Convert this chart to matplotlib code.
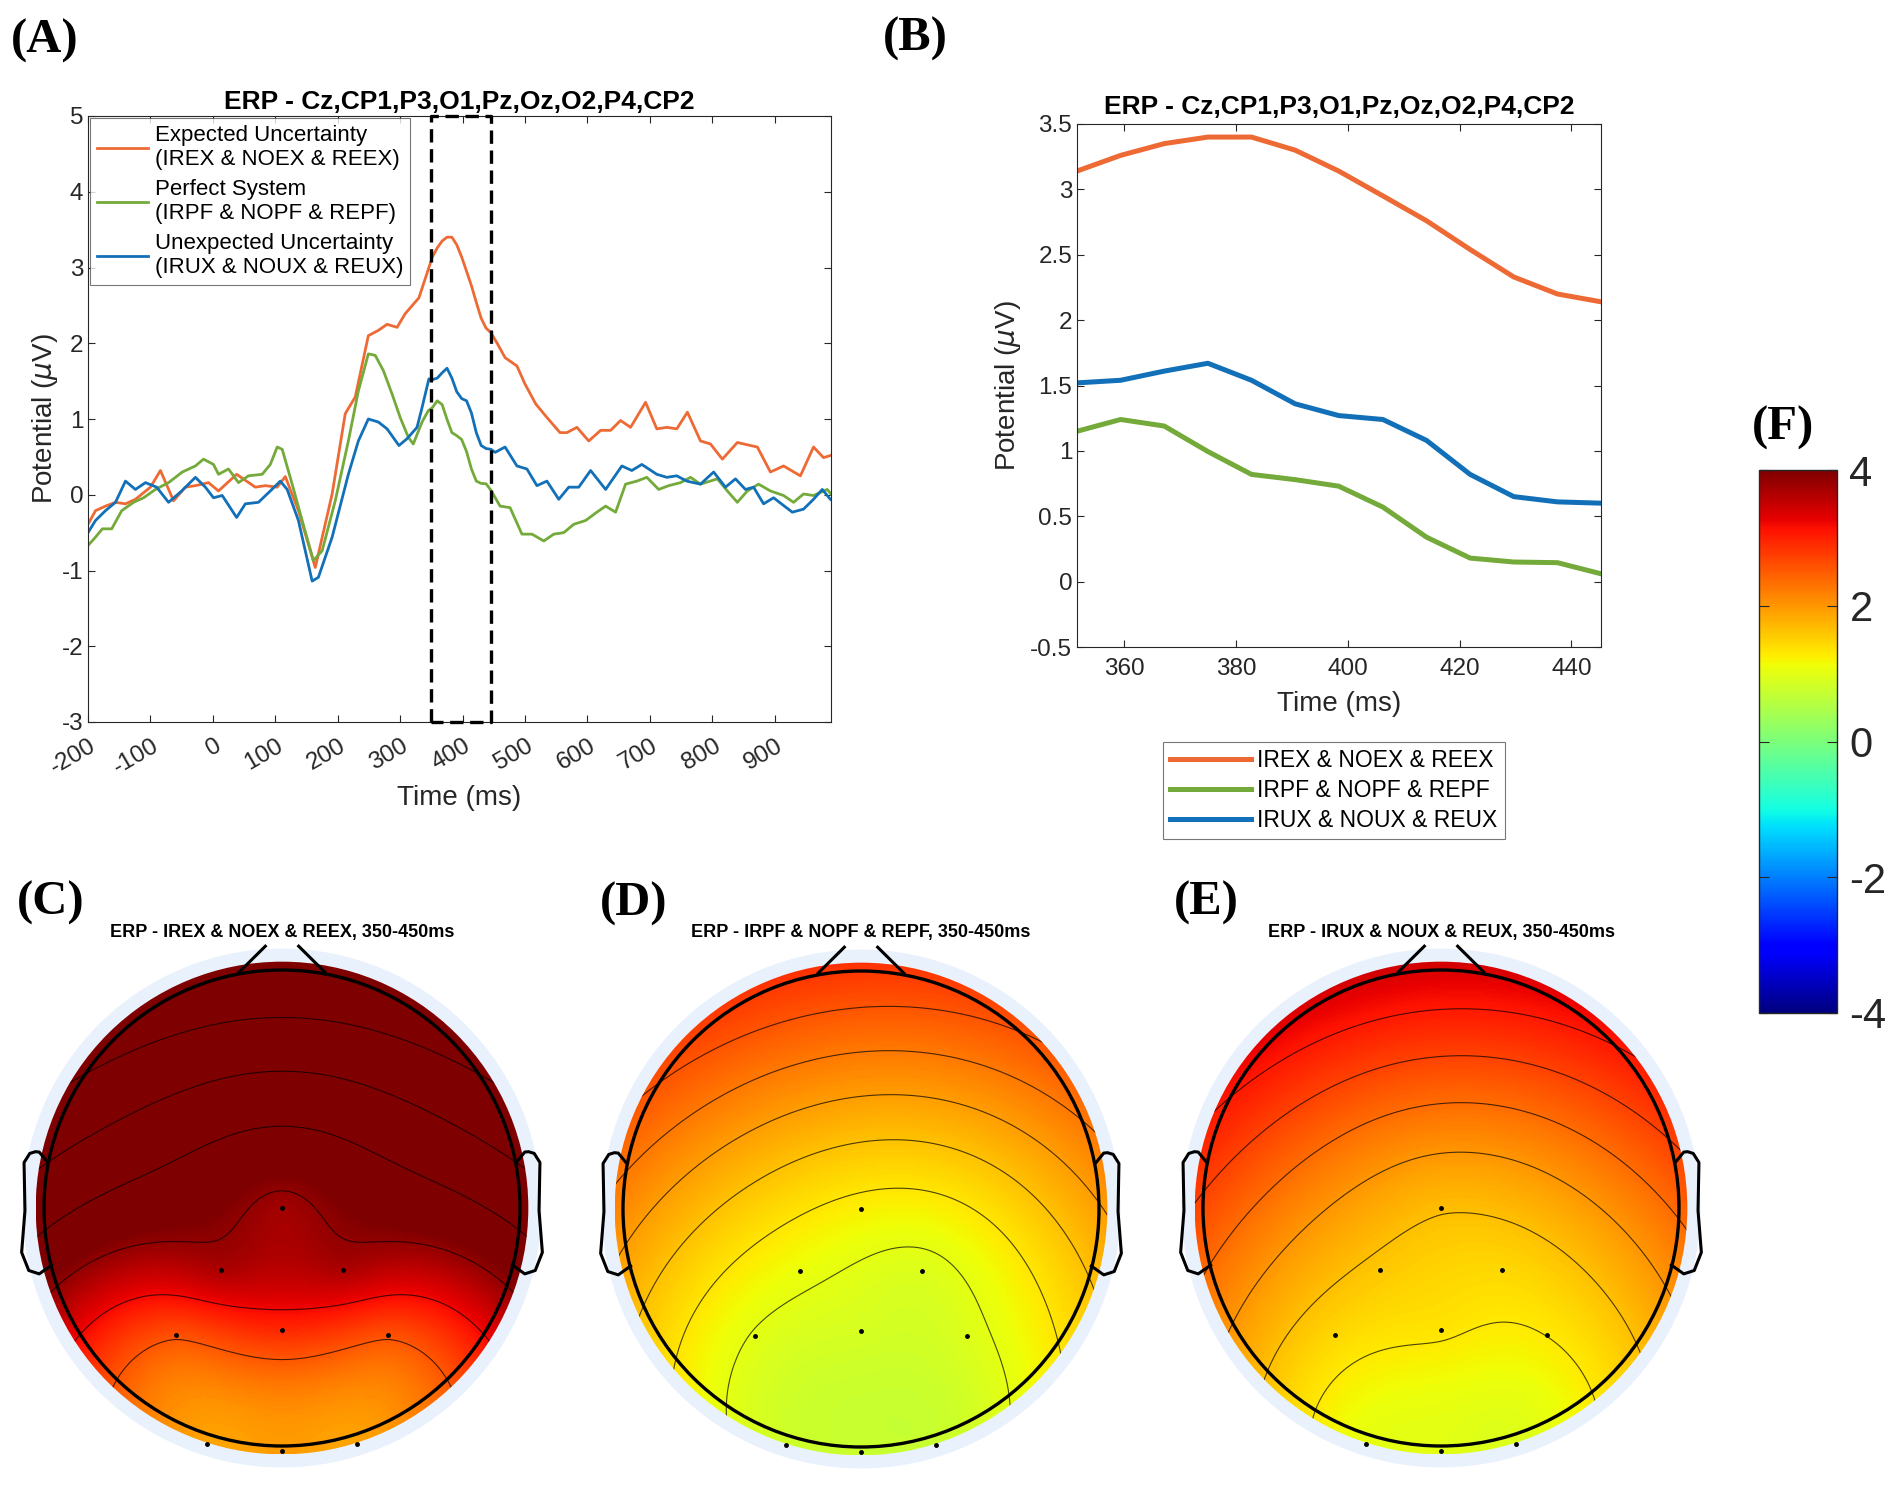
import numpy as np
import matplotlib
matplotlib.use('Agg')
import matplotlib.pyplot as plt
import matplotlib.transforms as mtransforms
from matplotlib.patches import Circle
from matplotlib.colors import Normalize
from matplotlib.cm import ScalarMappable
from matplotlib.ticker import FuncFormatter

plt.rcParams['font.family'] = ['Liberation Sans', 'DejaVu Sans']
plt.rcParams['axes.unicode_minus'] = False

# ---- ERP waveforms (panel A) ----
pre_time_exp = [-200, -188, -172, -156, -140, -124, -100, -84, -63, -44,
                -28, -7, 9, 38, 68, 84, 103, 116, 137, 164,
                191, 212, 228, 249, 265, 279, 295, 308, 330, 346]
pre_expected = [-0.39, -0.21, -0.15, -0.1, -0.12, -0.06, 0.1, 0.32, -0.08, 0.1,
                0.12, 0.16, 0.05, 0.27, 0.1, 0.12, 0.1, 0.24, -0.21, -0.96,
                0.01, 1.07, 1.29, 2.1, 2.17, 2.25, 2.21, 2.39, 2.6, 3.0]
post_time_exp = [456, 468, 487, 500, 517, 535, 556, 567, 583, 602,
                 621, 637, 653, 669, 693, 711, 727, 743, 760, 781,
                 797, 816, 840, 861, 872, 893, 914, 941, 962, 978, 990]
post_expected = [1.99, 1.81, 1.7, 1.46, 1.2, 1.02, 0.82, 0.82, 0.89, 0.71,
                 0.85, 0.85, 0.98, 0.89, 1.22, 0.87, 0.89, 0.87, 1.09, 0.71,
                 0.67, 0.47, 0.69, 0.65, 0.63, 0.3, 0.38, 0.25, 0.63, 0.49, 0.52]

pre_time_pf = [-200, -188, -177, -162, -146, -127, -111, -92, -71, -49,
               -28, -15, 1, 9, 25, 41, 57, 79, 92, 103,
               111, 127, 143, 161, 175, 196, 217, 233, 249, 260,
               273, 287, 300, 313, 321, 335, 345]
pre_perfect = [-0.67, -0.56, -0.45, -0.45, -0.21, -0.1, -0.04, 0.07, 0.16, 0.3,
               0.38, 0.47, 0.4, 0.27, 0.34, 0.16, 0.25, 0.27, 0.4, 0.63,
               0.6, 0.14, -0.34, -0.87, -0.74, -0.08, 0.71, 1.37, 1.86, 1.84,
               1.64, 1.33, 1.02, 0.76, 0.67, 0.96, 1.11]
post_time_pf = [460, 476, 495, 511, 530, 546, 562, 578, 597, 615,
                629, 645, 661, 679, 695, 714, 730, 749, 765, 781,
                808, 824, 840, 856, 874, 893, 914, 930, 946, 962, 984, 990]
post_perfect = [-0.15, -0.17, -0.52, -0.52, -0.61, -0.52, -0.5, -0.39, -0.34, -0.23,
                -0.15, -0.23, 0.14, 0.18, 0.23, 0.07, 0.12, 0.16, 0.23, 0.14,
                0.21, 0.05, -0.1, 0.05, 0.14, 0.05, -0.01, -0.1, 0.01, -0.01, 0.07, 0.01]

pre_time_ux = [-200, -188, -172, -156, -140, -124, -108, -90, -71, -50,
               -28, -12, 1, 15, 38, 52, 73, 92, 108, 119,
               137, 159, 169, 191, 217, 233, 249, 265, 279, 298,
               311, 327, 335, 346]
pre_unexpected = [-0.5, -0.34, -0.21, -0.1, 0.18, 0.07, 0.16, 0.1, -0.1, 0.05,
                  0.23, 0.1, -0.04, -0.01, -0.3, -0.12, -0.1, 0.05, 0.18, 0.07,
                  -0.34, -1.14, -1.09, -0.56, 0.27, 0.71, 1.0, 0.96, 0.87, 0.65,
                  0.74, 0.89, 1.15, 1.53]
post_time_ux = [452, 468, 487, 503, 519, 535, 554, 570, 586, 605, 629,
                655, 671, 687, 711, 727, 743, 759, 781, 802, 821,
                837, 853, 866, 882, 898, 928, 946, 962, 976, 989]
post_unexpected = [0.56, 0.63, 0.38, 0.34, 0.12, 0.18, -0.06, 0.1, 0.1, 0.32, 0.07,
                   0.38, 0.32, 0.4, 0.27, 0.23, 0.25, 0.18, 0.14, 0.3, 0.1,
                   0.21, 0.07, 0.1, -0.12, -0.04, -0.23, -0.19, -0.06, 0.07, -0.06]

# ---- 350-450 ms window (panel B) ----
win_time = [351.6, 359.4, 367.2, 375.0, 382.8, 390.6, 398.4, 406.3, 414.1, 421.9, 429.7, 437.5, 445.3]
win_expected = [3.14, 3.26, 3.35, 3.40, 3.40, 3.30, 3.14, 2.95, 2.76, 2.54, 2.33, 2.20, 2.14]
win_perfect = [1.15, 1.24, 1.19, 0.995, 0.82, 0.78, 0.73, 0.57, 0.34, 0.18, 0.15, 0.145, 0.06]
win_unexpected = [1.52, 1.54, 1.61, 1.67, 1.54, 1.36, 1.27, 1.24, 1.08, 0.82, 0.65, 0.61, 0.60]

# ---- topographies (panels C-E): mean amplitude per channel, 350-450 ms ----
channels = ['Cz', 'CP1', 'P3', 'O1', 'Pz', 'Oz', 'O2', 'P4', 'CP2']
chan_x = [0.0, -0.256, -0.444, -0.317, 0.0, 0.0, 0.317, 0.444, 0.256]
chan_y = [0.0, -0.26, -0.535, -0.99, -0.511, -1.02, -0.99, -0.535, -0.26]
topo_expected = [3.75, 3.68, 2.6, 1.9, 2.95, 1.95, 1.9, 2.6, 3.68]
topo_perfect = [1.24, 1.1, 1.0, 0.82, 0.88, 0.75, 0.75, 0.94, 0.94]
topo_unexpected = [1.68, 1.58, 1.45, 1.05, 1.34, 1.0, 0.95, 1.3, 1.45]

ORANGE = '#EE6A35'
GREEN = '#74AA3A'
BLUE = '#1270B8'
AXC = '#262626'

W, H = 1902, 1487
fig = plt.figure(figsize=(W / 100, H / 100), dpi=100)


def px_axes(l, t, r, b):
    return fig.add_axes([l / W, 1 - b / H, (r - l) / W, (b - t) / H])


def matlab_style(ax, size=17.5):
    for s in ax.spines.values():
        s.set_color(AXC)
        s.set_linewidth(0.8)
    ax.tick_params(direction='in', top=True, right=True, length=5, width=0.8,
                   colors=AXC, labelsize=size, labelcolor=AXC)


g_fmt = FuncFormatter(lambda v, p: '%g' % v)
title_txt = 'ERP - Cz,CP1,P3,O1,Pz,Oz,O2,P4,CP2'

# ---------- panel A ----------
axA = px_axes(88, 116, 831, 722)
axA.plot(pre_time_exp + win_time + post_time_exp, pre_expected + win_expected + post_expected,
         color=ORANGE, lw=2, label='Expected Uncertainty\n(IREX & NOEX & REEX)')
axA.plot(pre_time_pf + win_time + post_time_pf, pre_perfect + win_perfect + post_perfect,
         color=GREEN, lw=2, label='Perfect System\n(IRPF & NOPF & REPF)')
axA.plot(pre_time_ux + win_time + post_time_ux, pre_unexpected + win_unexpected + post_unexpected,
         color=BLUE, lw=2, label='Unexpected Uncertainty\n(IRUX & NOUX & REUX)')
axA.plot([350, 350, 445, 445, 350], [-3, 5, 5, -3, -3], color='k', lw=2.4,
         ls=(0, (4, 2)), clip_on=False, zorder=5)
axA.set_xlim(-200, 990)
axA.set_ylim(-3, 5)
axA.set_xticks(range(-200, 1000, 100))
axA.set_yticks(range(-3, 6))
matlab_style(axA)
axA.tick_params(axis='x', pad=9)
shift = mtransforms.ScaledTranslation(0.12, 0, fig.dpi_scale_trans)
for lab in axA.get_xticklabels():
    lab.set_rotation(30)
    lab.set_ha('right')
    lab.set_transform(lab.get_transform() + shift)
axA.set_xlabel('Time (ms)', fontsize=20, color=AXC, labelpad=5)
axA.set_ylabel(r'Potential ($\mu$V)', fontsize=20, color=AXC, labelpad=1)
axA.set_title(title_txt, fontsize=19, fontweight='bold', pad=5)
legA = axA.legend(loc='upper left', fontsize=16, frameon=True, fancybox=False,
                  edgecolor='#555555', borderaxespad=0.1, handlelength=2.3,
                  handletextpad=0.3, labelspacing=0.4, borderpad=0.3)
legA.get_frame().set_linewidth(0.8)

# ---------- panel B ----------
axB = px_axes(1077, 124, 1601, 647)
axB.plot(win_time, win_expected, color=ORANGE, lw=3.6, label='IREX & NOEX & REEX')
axB.plot(win_time, win_perfect, color=GREEN, lw=3.6, label='IRPF & NOPF & REPF')
axB.plot(win_time, win_unexpected, color=BLUE, lw=3.6, label='IRUX & NOUX & REUX')
axB.set_xlim(win_time[0], win_time[-1])
axB.set_ylim(-0.5, 3.5)
axB.set_xticks(range(360, 441, 20))
axB.set_yticks(np.arange(-0.5, 3.51, 0.5))
axB.yaxis.set_major_formatter(g_fmt)
matlab_style(axB)
axB.tick_params(axis='x', pad=8)
axB.set_xlabel('Time (ms)', fontsize=20, color=AXC, labelpad=8)
axB.set_ylabel(r'Potential ($\mu$V)', fontsize=20, color=AXC, labelpad=5)
axB.set_title(title_txt, fontsize=19, fontweight='bold', pad=7)
legB = axB.legend(loc='upper center', bbox_to_anchor=(1334 / W, 1 - 731 / H),
                  bbox_transform=fig.transFigure, fontsize=16.5, frameon=True,
                  fancybox=False, edgecolor='#555555', handlelength=3.5,
                  handletextpad=0.3, labelspacing=0.3, borderpad=0.3)
legB.get_frame().set_linewidth(0.8)

# ---------- topoplots ----------
BACK = '#E8F1FC'
DISK_R = 1.035
RING_R = 1.09
ear_x = np.array([.492, .510, .518, .5299, .5419, .54, .547, .532, .510, .484]) * 2
ear_y = np.array([.0955, .1175, .1183, .1146, .0955, -.0055, -.0932, -.1313, -.1384, -.1199]) * 2


def biharmonic(xe, ye, ve, xg, yg):
    # v4-style biharmonic spline (Sandwell), head radius = 0.5 units
    xe = np.asarray(xe) * 0.5
    ye = np.asarray(ye) * 0.5
    d = np.hypot(xe[:, None] - xe[None, :], ye[:, None] - ye[None, :])
    with np.errstate(divide='ignore', invalid='ignore'):
        G = np.where(d > 0, d ** 2 * (np.log(d) - 1), 0.0)
    w = np.linalg.solve(G, np.asarray(ve, float))
    dg = np.hypot(xg[..., None] * 0.5 - xe, yg[..., None] * 0.5 - ye)
    with np.errstate(divide='ignore', invalid='ignore'):
        Gg = np.where(dg > 0, dg ** 2 * (np.log(dg) - 1), 0.0)
    return Gg @ w


def topoplot(cx, cy, values, title):
    half = 300
    ax = px_axes(cx - half, cy - half, cx + half, cy + half)
    lim = half / 238.0
    ax.set_xlim(-lim, lim)
    ax.set_ylim(-lim, lim)
    ax.axis('off')
    ax.add_patch(Circle((0, 0), RING_R, color=BACK, lw=0, zorder=0))
    g = np.linspace(-DISK_R, DISK_R, 301)
    gx, gy = np.meshgrid(g, g)
    z = biharmonic(chan_x, chan_y, values, gx, gy)
    inside = np.hypot(gx, gy) <= DISK_R
    clip = Circle((0, 0), DISK_R, transform=ax.transData, fill=False, lw=0)
    ax.add_patch(clip)
    im = ax.imshow(z, extent=(-DISK_R, DISK_R, -DISK_R, DISK_R), origin='lower',
                   cmap='jet', vmin=-4, vmax=4, interpolation='bilinear', zorder=1)
    im.set_clip_path(clip)
    levels = np.linspace(z[inside].min(), z[inside].max(), 8)[1:-1]
    cs = ax.contour(gx, gy, z, levels=levels, colors='k', linewidths=0.8, alpha=0.7, zorder=2)
    cs.set_clip_path(clip)
    ax.add_patch(Circle((0, 0), 1.0, fill=False, lw=2.4, color='k', zorder=3))
    for side in (-1, 1):
        ax.plot(side * ear_x, ear_y, color='k', lw=2.2, zorder=3)
        ax.plot([side * 0.18, side * 0.07], [0.991, 1.10], color='k', lw=2.2, zorder=3)
    ax.plot(chan_x, chan_y, 'k.', ms=5, zorder=4)
    fig.text(cx / W, 1 - 933 / H, title, fontsize=13, fontweight='bold',
             ha='center', va='center')


topoplot(282, 1208, topo_expected, 'ERP - IREX & NOEX & REEX, 350-450ms')
topoplot(861, 1209, topo_perfect, 'ERP - IRPF & NOPF & REPF, 350-450ms')
topoplot(1441, 1208, topo_unexpected, 'ERP - IRUX & NOUX & REUX, 350-450ms')

# ---------- colorbar ----------
cax = px_axes(1759, 470, 1837, 1013)
sm = ScalarMappable(norm=Normalize(-4, 4), cmap='jet')
cb = fig.colorbar(sm, cax=cax, ticks=[-4, -2, 0, 2, 4])
cb.ax.tick_params(labelsize=30, direction='in', length=7, left=True, right=True,
                  colors=AXC, labelcolor=AXC, pad=9)
cb.outline.set_linewidth(1)
cb.outline.set_edgecolor(AXC)

# ---------- panel letters ----------
for lab, x, y in [('(A)', 11, 41), ('(B)', 883, 39), ('(C)', 17, 903),
                  ('(D)', 600, 904), ('(E)', 1174, 903), ('(F)', 1752, 428)]:
    fig.text(x / W, 1 - y / H, lab, fontsize=35, fontweight='bold',
             family='Liberation Serif', ha='left', va='center')

fig.savefig('out.png', dpi=100)
